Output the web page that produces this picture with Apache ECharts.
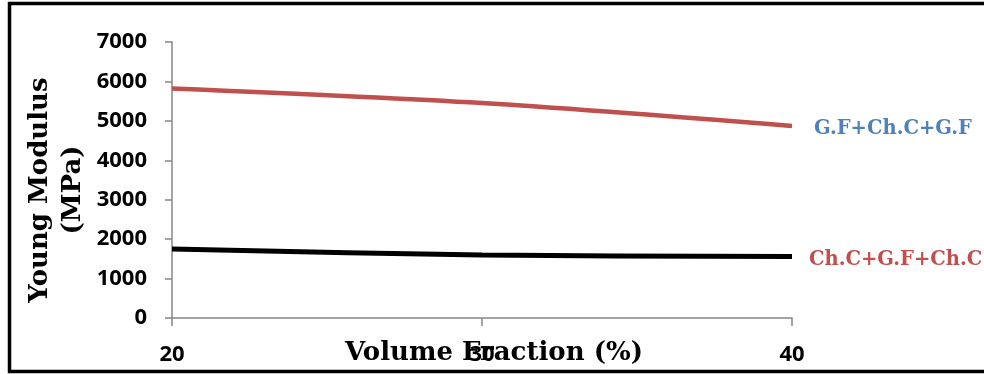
<!DOCTYPE html>
<html>
<head>
<meta charset="utf-8">
<script src="https://cdn.jsdelivr.net/npm/echarts@6/dist/echarts.min.js"></script>
<style>
  html, body { margin: 0; padding: 0; background: #fff; }
  #chart { width: 984px; height: 374px; }
</style>
</head>
<body>
<div id="chart"></div>
<script>
// volume fraction (%)
const categories = ['20', '30', '40']
// Young modulus (MPa)
const gfChGf = [5820, 5450, 4870]
const chGfCh = [1750, 1600, 1560]
const seriesNames = ['G.F+Ch.C+G.F', 'Ch.C+G.F+Ch.C']

const chart = echarts.init(document.getElementById('chart'))
const serif = 'DejaVu Serif'
const sans = 'Noto Sans'

chart.setOption({
  animation: false,
  grid: { left: 172, right: 192, top: 42, bottom: 56 },
  xAxis: {
    type: 'category',
    data: categories,
    boundaryGap: false,
    axisLine: { lineStyle: { color: '#868686', width: 1.5 } },
    axisTick: { show: true, length: 8, lineStyle: { color: '#868686', width: 1.5 } },
    axisLabel: { color: '#000', fontFamily: sans, fontWeight: 'bold', fontSize: 22, margin: 26 }
  },
  yAxis: {
    type: 'value',
    min: 0,
    max: 7000,
    interval: 1000,
    splitLine: { show: false },
    axisLine: { show: true, lineStyle: { color: '#868686', width: 1.5 } },
    axisTick: { show: true, length: 7, lineStyle: { color: '#868686', width: 1.5 } },
    axisLabel: {
      color: '#000', fontFamily: sans, fontWeight: 'bold', fontSize: 22, margin: 25,
      formatter: v => String(v)
    }
  },
  graphic: [
    {
      type: 'rect',
      shape: { x: 9.5, y: 3.5, width: 1100, height: 368 },
      style: { fill: 'none', stroke: '#000', lineWidth: 3.5 },
      silent: true
    },
    {
      type: 'text',
      x: 57, y: 190, rotation: Math.PI / 2,
      style: {
        text: 'Young Modulus\n(MPa)',
        font: 'bold 26px "' + serif + '"',
        fill: '#000', align: 'center', verticalAlign: 'middle', lineHeight: 33
      }
    },
    {
      type: 'text',
      x: 494, y: 353,
      style: {
        text: 'Volume Fraction (%)',
        font: 'bold 26px "' + serif + '"',
        fill: '#000', align: 'center', verticalAlign: 'middle'
      }
    }
  ],
  series: [
    {
      name: seriesNames[0],
      type: 'line',
      data: gfChGf,
      smooth: 0.3,
      showSymbol: false,
      lineStyle: { color: '#c0504d', width: 4.5 },
      endLabel: {
        show: true,
        formatter: '{a}',
        distance: 22,
        offset: [0, 3],
        color: '#4f81bd',
        fontFamily: serif,
        fontWeight: 'bold',
        fontSize: 19.5
      }
    },
    {
      name: seriesNames[1],
      type: 'line',
      data: chGfCh,
      smooth: 0.3,
      showSymbol: false,
      lineStyle: { color: '#000', width: 5 },
      endLabel: {
        show: true,
        formatter: '{a}',
        distance: 17,
        offset: [0, 3],
        color: '#c0504d',
        fontFamily: serif,
        fontWeight: 'bold',
        fontSize: 19.5
      }
    }
  ]
})
</script>
</body>
</html>
